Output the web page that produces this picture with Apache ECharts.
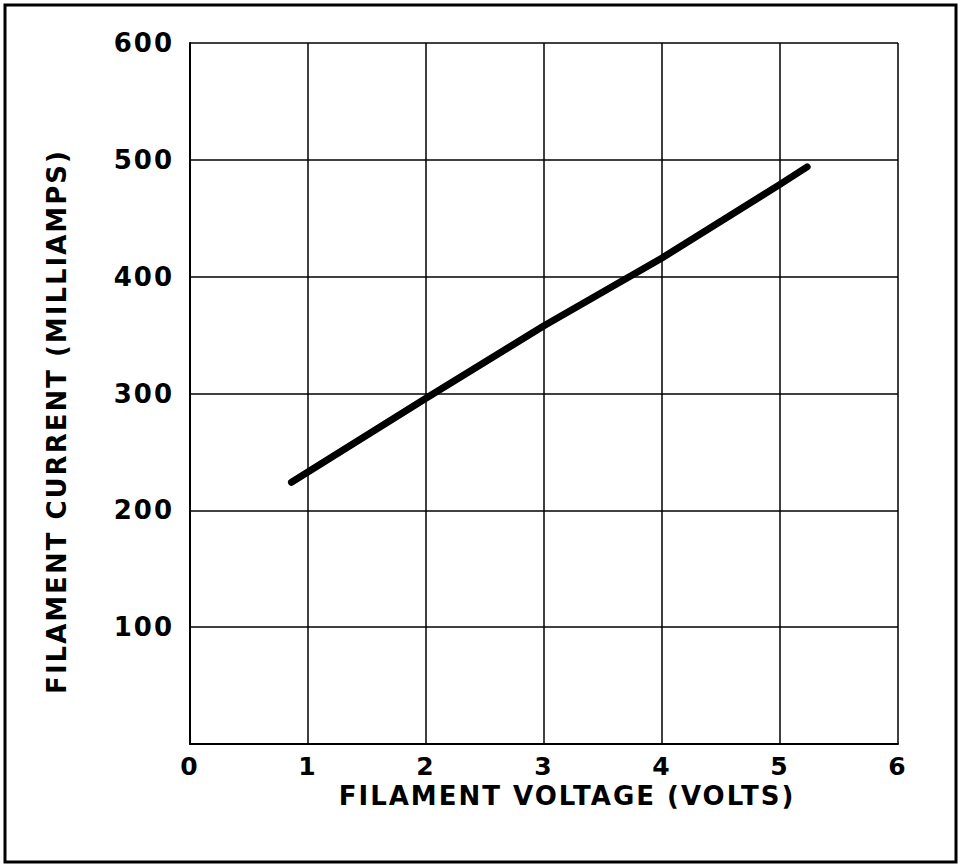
<!DOCTYPE html>
<html>
<head>
<meta charset="utf-8">
<title>Filament current vs voltage</title>
<script src="https://cdn.jsdelivr.net/npm/echarts@6/dist/echarts.min.js"></script>
<style>
  html, body { margin: 0; padding: 0; background: #fff; }
  #main { width: 960px; height: 864px; }
  /* the drawing uses widely spaced lettering */
  #main svg text { letter-spacing: 2px; }
</style>
</head>
<body>
<div id="main"></div>
<script>
// values
var voltage = [0.86, 2, 3, 4, 5, 5.23];
var current = [224, 296, 358, 416, 479, 494];
var xTicks = ['0', '1', '2', '3', '4', '5', '6'];
var yTicks = ['', '100', '200', '300', '400', '500', '600'];

var myChart = echarts.init(document.getElementById('main'), null, { renderer: 'svg' });

var font = 'DejaVu Sans';

var option = {
  backgroundColor: '#fff',
  animation: false,
  graphic: [{
    type: 'rect',
    shape: { x: 5, y: 5, width: 951, height: 857 },
    style: { fill: 'none', stroke: '#000', lineWidth: 3 }
  }],
  grid: { left: 190, right: 62, top: 43, bottom: 120 },
  xAxis: {
    type: 'value',
    min: 0, max: 6, interval: 1,
    name: 'FILAMENT VOLTAGE (VOLTS)',
    nameLocation: 'middle',
    nameMoveOverlap: false,
    nameGap: 42,
    nameTextStyle: {
      color: '#000', fontFamily: font, fontWeight: 'bold', fontSize: 26,
      lineHeight: 20, verticalAlign: 'top', padding: [0, 0, 0, 46]
    },
    axisLine: { lineStyle: { color: '#000', width: 2 } },
    axisTick: { show: false },
    axisLabel: {
      color: '#000', fontFamily: font, fontWeight: 'bold', fontSize: 25, margin: 12,
      lineHeight: 20,
      formatter: function (v) { return xTicks[Math.round(v)]; }
    },
    splitLine: { show: true, lineStyle: { color: '#000', width: 1.5 } }
  },
  yAxis: {
    type: 'value',
    min: 0, max: 600, interval: 100,
    name: 'FILAMENT CURRENT (MILLIAMPS)',
    nameLocation: 'middle',
    nameMoveOverlap: false,
    nameGap: 120,
    nameRotate: 90,
    nameTextStyle: {
      color: '#000', fontFamily: font, fontWeight: 'bold', fontSize: 26,
      padding: [0, 56, 0, 0]
    },
    axisLine: { show: true, lineStyle: { color: '#000', width: 2 } },
    axisTick: { show: false },
    axisLabel: {
      color: '#000', fontFamily: font, fontWeight: 'bold', fontSize: 26, margin: 16,
      formatter: function (v) { return yTicks[Math.round(v / 100)]; }
    },
    splitLine: { show: true, lineStyle: { color: '#000', width: 1.5 } }
  },
  series: [{
    type: 'line',
    data: voltage.map(function (v, i) { return [v, current[i]]; }),
    showSymbol: false,
    lineStyle: { color: '#000', width: 7, cap: 'round', join: 'round' }
  }]
};
myChart.setOption(option);
</script>
</body>
</html>
